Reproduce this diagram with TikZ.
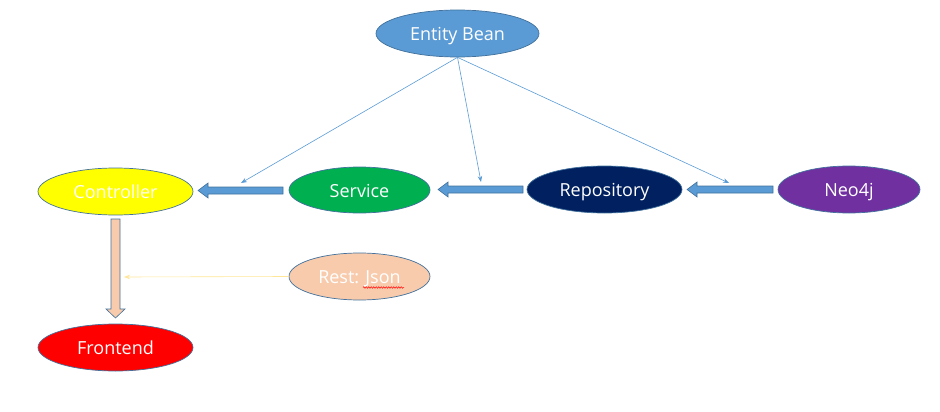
\documentclass[tikz,border=0pt]{standalone}
\usepackage{fontspec}
\setmainfont{Open Sans}
\usetikzlibrary{shapes.geometric,arrows.meta,calc,decorations.pathmorphing}
\definecolor{bord}{HTML}{41719C}
\definecolor{eb}{HTML}{5B9BD5}
\definecolor{ctl}{HTML}{FFFF00}
\definecolor{svc}{HTML}{00B050}
\definecolor{repo}{HTML}{002060}
\definecolor{neo}{HTML}{7030A0}
\definecolor{peach}{HTML}{F8CBAD}
\definecolor{fe}{HTML}{FF0000}
\definecolor{lightyel}{HTML}{FFE699}
\newcommand\hblockarrow[2]{\draw[blockarrow] let \p1=(#1),\p2=(#2) in (\x1,\y1+3.5pt) -- (\x2+10pt,\y1+3.5pt) -- (\x2+10pt,\y1+7.5pt) -- (\x2,\y1) -- (\x2+10pt,\y1-7.5pt) -- (\x2+10pt,\y1-3.5pt) -- (\x1,\y1-3.5pt) -- cycle;}
\begin{document}
\begin{tikzpicture}[x=1pt,y=-1pt,
  ell/.style={ellipse,draw=bord,line width=0.7pt,inner sep=0pt,text=white,
    font=\fontsize{18}{21}\selectfont,text height=14pt,text depth=0pt},
  blockarrow/.style={draw=bord,fill=eb,line width=0.6pt},
  peachblock/.style={draw=bord,fill=peach,line width=0.6pt},
  thin/.style={draw=eb,line width=0.6pt,-{Stealth[length=6pt,width=4.5pt]}},
  yelthin/.style={draw=lightyel,line width=0.6pt,-{Stealth[length=6pt,width=4.5pt]}}]
\useasboundingbox (0,0) rectangle (940,412);
\node[ell,fill=eb,minimum width=163pt,minimum height=47pt] (bean) at (457.5,33.5) {Entity Bean};
\node[ell,fill=ctl,minimum width=155pt,minimum height=47pt] (ctrl) at (115.5,191.5) {Controller};
\node[ell,fill=svc,minimum width=141pt,minimum height=46pt] (svc) at (359.5,190) {Service};
\node[ell,fill=repo,minimum width=155pt,minimum height=47pt] (repo) at (604.5,189.5) {Repository};
\node[ell,fill=neo,minimum width=142pt,minimum height=47pt] (neo) at (849,189.5) {Neo4j};
\node[ell,fill=peach,minimum width=141pt,minimum height=47pt] (rest) at (359.5,276.5) {Rest: Json};
\node[ell,fill=fe,minimum width=155pt,minimum height=47pt] (fe) at (115.5,347.5) {Frontend};
% block arrows
\coordinate (s1) at (283,190.5); \coordinate (t1) at (198,190.5);
\coordinate (s2) at (523,189.5); \coordinate (t2) at (438,189.5);
\coordinate (s3) at (773,189.5); \coordinate (t3) at (687,189.5);
\hblockarrow{s1}{t1}
\hblockarrow{s2}{t2}
\hblockarrow{s3}{t3}
\coordinate (v1) at (115.5,219); \coordinate (v2) at (115.5,318);
\draw[peachblock] let \p1=(v1),\p2=(v2) in (\x1-4.5pt,\y1) -- (\x1-4.5pt,\y2+9pt) -- (\x1-9.5pt,\y2+9pt) -- (\x2,\y2) -- (\x1+9.5pt,\y2+9pt) -- (\x1+4.5pt,\y2+9pt) -- (\x1+4.5pt,\y1) -- cycle;
% thin arrows
\coordinate (e1) at (241,183);
\coordinate (e2) at (481,182);
\coordinate (e3) at (729,183);
\draw[thin] (bean.south) -- (e1);
\draw[thin] (bean.south) -- (e2);
\draw[thin] (bean.south) -- (e3);
\coordinate (e4) at (124,277);
\draw[yelthin] (rest.west) -- (e4);
% spell-check underline
\coordinate (u1) at (363,287.5); \coordinate (u2) at (404,287.5);
\draw[red,line width=0.5pt,decorate,decoration={snake,segment length=2.5pt,amplitude=0.8pt}] (u1) -- (u2);
\end{tikzpicture}
\end{document}
